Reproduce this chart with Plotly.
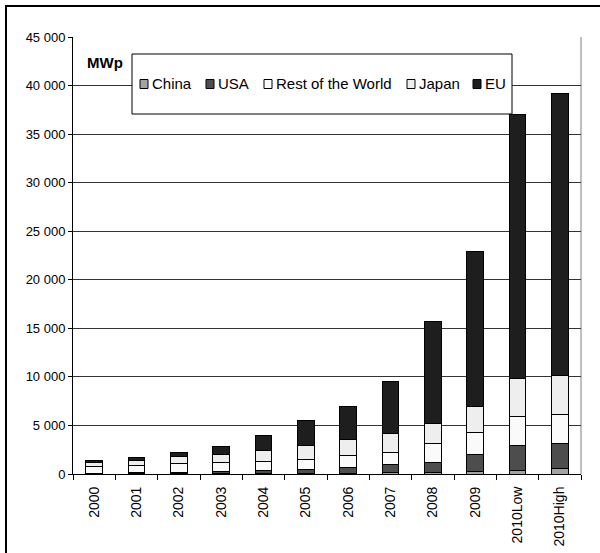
import plotly.graph_objects as go

# Cumulative installed PV capacity (MWp), stacked by region
years = ["2000", "2001", "2002", "2003", "2004", "2005", "2006",
         "2007", "2008", "2009", "2010Low", "2010High"]
china = [20, 25, 40, 55, 65, 70, 80, 120, 150, 300, 410, 580]
usa = [80, 90, 110, 185, 300, 400, 550, 830, 1060, 1680, 2570, 2570]
rest_of_world = [720, 800, 890, 930, 970, 1000, 1270, 1300, 1880, 2300, 2990, 2990]
japan = [340, 450, 720, 860, 1110, 1420, 1650, 1960, 2100, 2680, 3840, 3980]
eu = [240, 320, 500, 820, 1560, 2570, 3420, 5360, 10550, 15930, 27200, 29100]

y_ticks = list(range(0, 45001, 5000))
y_tick_labels = [f"{v:,}".replace(",", " ") for v in y_ticks]

series = [
    ("China", china, "#a3a3a3"),
    ("USA", usa, "#4d4d4d"),
    ("Rest of the World", rest_of_world, "#fafafa"),
    ("Japan", japan, "#eeeeee"),
    ("EU", eu, "#1e1e1e"),
]

FONT = "Liberation Sans"
W, H = 600, 553
L, R, T, B = 73, 19, 37, 79  # plot area margins in pixels
PW, PH = W - L - R, H - T - B


def px(x):
    return (x - L) / PW


def py(y):
    return (H - B - y) / PH


fig = go.Figure()
for name, vals, color in series:
    fig.add_trace(go.Bar(
        x=years, y=vals, name=name,
        marker=dict(color=color, line=dict(color="#000000", width=1)),
        showlegend=False,
    ))

shapes = []
# outer chart frame
shapes.append(dict(type="rect", xref="paper", yref="paper",
                   x0=px(6), x1=px(660), y0=py(620), y1=py(6),
                   line=dict(color="#000000", width=2), layer="below"))
# right border of plot area
shapes.append(dict(type="line", xref="paper", yref="paper",
                   x0=1, x1=1, y0=0, y1=1,
                   line=dict(color="#808080", width=1), layer="below"))
# legend box
shapes.append(dict(type="rect", xref="paper", yref="paper",
                   x0=px(132), x1=px(512), y0=py(114), y1=py(54),
                   line=dict(color="#000000", width=1), fillcolor="#ffffff",
                   layer="above"))

annotations = [dict(text="<b>MWp</b>", xref="paper", yref="paper",
                    x=px(85), y=py(62), xanchor="left", yanchor="middle",
                    showarrow=False, font=dict(family=FONT, size=15, color="#000000"))]

# legend entries: swatch + label
swatch_x = [140, 206, 264, 407, 473]
for (name, _, color), sx in zip(series, swatch_x):
    shapes.append(dict(type="rect", xref="paper", yref="paper",
                       x0=px(sx), x1=px(sx + 8), y0=py(88.5), y1=py(79.5),
                       line=dict(color="#000000", width=1), fillcolor=color,
                       layer="above"))
    annotations.append(dict(text=name, xref="paper", yref="paper",
                            x=px(sx + 10), y=py(83), xanchor="left", yanchor="middle",
                            showarrow=False,
                            font=dict(family=FONT, size=15, color="#000000")))

fig.update_layout(
    width=W, height=H,
    margin=dict(l=L, r=R, t=T, b=B, pad=0, autoexpand=False),
    barmode="stack",
    bargap=0.6,
    paper_bgcolor="#ffffff",
    plot_bgcolor="#ffffff",
    font=dict(family=FONT, color="#000000"),
    shapes=shapes,
    annotations=annotations,
    xaxis=dict(
        type="category", categoryorder="array", categoryarray=years,
        tickangle=-90, ticks="outside", tickson="boundaries", ticklen=5,
        tickcolor="#000000", showline=True, linecolor="#000000", linewidth=1,
        showgrid=False, ticklabelstandoff=6, automargin=False,
        tickfont=dict(family=FONT, size=14, color="#000000"),
    ),
    yaxis=dict(
        range=[0, 45000], tickvals=y_ticks, ticktext=y_tick_labels,
        ticks="outside", ticklen=4, tickcolor="#000000",
        showline=True, linecolor="#000000", linewidth=1,
        showgrid=True, gridcolor="#333333", gridwidth=1, zeroline=False,
        automargin=False,
        tickfont=dict(family=FONT, size=13, color="#000000"),
    ),
)

fig.write_html("out.html")
